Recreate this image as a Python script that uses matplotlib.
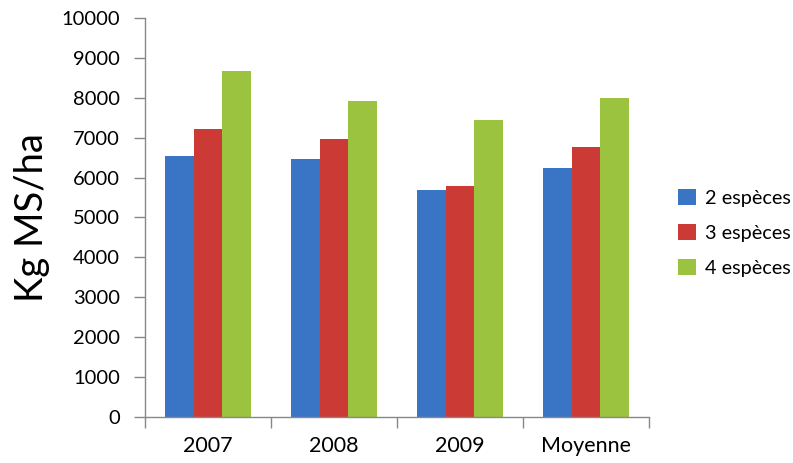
import numpy as np
import matplotlib
matplotlib.use("Agg")
import matplotlib.pyplot as plt
from matplotlib.patches import Patch

plt.rcParams['font.family'] = ['Lato', 'DejaVu Sans']

categories = ["2007", "2008", "2009", "Moyenne"]
series_names = ["2 espèces", "3 espèces", "4 espèces"]
values_2 = [6530, 6470, 5700, 6240]
values_3 = [7220, 6960, 5800, 6770]
values_4 = [8660, 7910, 7450, 7990]
colors = ["#3A74C4", "#CC3A36", "#9BC33F"]
yticks = list(range(0, 10001, 1000))

fig = plt.figure(figsize=(7.93, 4.63), dpi=100)
ax = fig.add_axes([145 / 793, 46 / 463, (649 - 145) / 793, (417 - 18) / 463])

x = np.arange(len(categories))
width = 0.226
for i, (vals, col) in enumerate(zip([values_2, values_3, values_4], colors)):
    ax.bar(x + (i - 1) * width, vals, width=width, color=col, edgecolor='none')

ax.set_xlim(-0.5, len(categories) - 0.5)
ax.set_ylim(0, 10000)
ax.set_yticks(yticks)
ax.set_yticklabels([str(v) for v in yticks], fontsize=14.5)
ax.set_xticks(np.arange(len(categories) + 1) - 0.5)
ax.set_xticklabels([])
ax.set_xticks(x, minor=True)
ax.set_xticklabels(categories, minor=True, fontsize=15.5)
ax.tick_params(axis='x', which='minor', length=0, pad=14)
ax.tick_params(axis='x', which='major', length=8, color='#888888', width=1)
ax.tick_params(axis='y', length=8, color='#888888', width=1, pad=10)

for side in ['top', 'right']:
    ax.spines[side].set_visible(False)
for side in ['left', 'bottom']:
    ax.spines[side].set_color('#888888')
    ax.spines[side].set_linewidth(1)

ax.set_ylabel("Kg MS/ha", fontsize=27.5, labelpad=8)

handles = [Patch(facecolor=c, edgecolor='none') for c in colors]
fig.legend(handles, series_names, loc='center left', bbox_to_anchor=(660 / 793, 1 - 233 / 463),
           frameon=False, fontsize=14.3, handlelength=0.9, handleheight=0.9,
           labelspacing=0.85, handletextpad=0.45)

fig.savefig("out.png", dpi=100)
